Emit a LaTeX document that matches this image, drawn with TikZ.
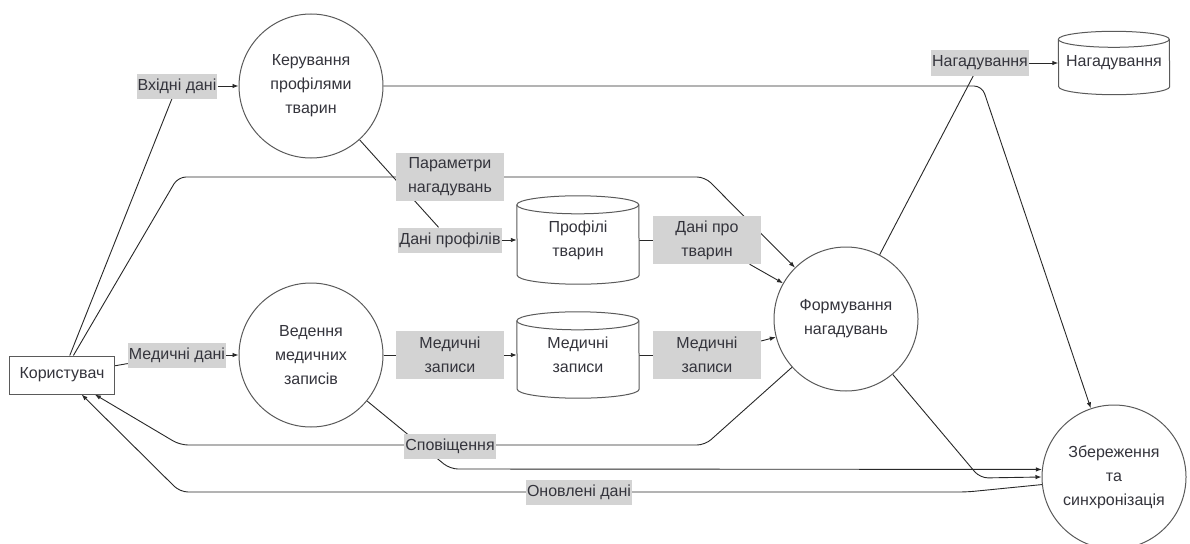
\documentclass[tikz,border=0pt]{standalone}
\usepackage{fontspec}
\setmainfont{Liberation Sans}
\usetikzlibrary{calc,backgrounds,arrows.meta}

\definecolor{ink}{RGB}{40,40,40}
\definecolor{txt}{RGB}{52,52,60}
\definecolor{edge}{RGB}{90,90,90}
\definecolor{lblfill}{RGB}{211,211,211}

% data store drawn as a cylinder around a named rectangular node
% #1 node name, #2 x radius of the end ellipses, #3 y radius
\newcommand\drawcyl[3]{%
  \path[cylline] ($(#1.north west)+(0,-#3)$)
      arc[start angle=180,end angle=0,x radius=#2,y radius=#3]
      -- ($(#1.south east)+(0,#3)$)
      arc[start angle=0,end angle=-180,x radius=#2,y radius=#3] -- cycle;
  \path[cylline,fill=none] ($(#1.north west)+(0,-#3)$)
      arc[start angle=180,end angle=360,x radius=#2,y radius=#3];
}

\begin{document}
\begin{tikzpicture}[x=1pt,y=1pt,
  every node/.style={font=\fontsize{16}{24}\selectfont, text=txt},
  proc/.style={circle, draw=edge, line width=1pt, fill=white,
               minimum size=144pt, inner sep=0pt, align=center},
  ent/.style={rectangle, draw=edge, line width=1pt, fill=white,
              minimum width=105pt, minimum height=38pt, inner sep=0pt},
  store/.style={rectangle, inner sep=0pt, align=center},
  flow/.style={rectangle, fill=lblfill, inner xsep=1pt, inner ysep=0pt,
               minimum height=25pt},
  flowtwo/.style={rectangle, fill=lblfill, align=center, inner sep=0pt,
                  minimum width=108pt, minimum height=48pt},
  link/.style={draw=ink, line width=0.9pt, rounded corners=8pt},
  arr/.style={link, -{Latex[length=6pt,width=4.5pt]}},
  cylline/.style={draw=edge, line width=1pt, fill=white}
]
\useasboundingbox (0,0) rectangle (1190,-543);

% external entity and processes
\node[ent]  (user) at (62,-375)   {Користувач};
\node[proc] (ker)  at (311,-86)   {Керування\\профілями\\тварин};
\node[proc] (ved)  at (311,-355)  {Ведення\\медичних\\записів};
\node[proc] (form) at (846,-319)  {Формування\\нагадувань};
\node[proc] (zb)   at (1114,-477) {Збереження\\та\\синхронізація};

% data stores
\node[store, minimum width=122pt, minimum height=88pt] (dbprof) at (578,-240) {Профілі\\тварин};
\node[store, minimum width=122pt, minimum height=86pt] (dbmed)  at (578,-355) {Медичні\\записи};
\node[store, minimum width=111pt, minimum height=63pt] (dbrem)  at (1114,-63) {Нагадування};

% flow labels
\node[flow]    (lin)   at (177,-86)  {Вхідні дані};
\node[flow]    (lmed)  at (177,-355) {Медичні дані};
\node[flowtwo] (lpar)  at (450,-177) {Параметри\\нагадувань};
\node[flow]    (lprof) at (450,-240) {Дані профілів};
\node[flowtwo] (lanim) at (707,-240) {Дані про\\тварин};
\node[flowtwo] (lreca) at (450,-355) {Медичні\\записи};
\node[flowtwo] (lrecb) at (707,-355) {Медичні\\записи};
\node[flow]    (lnot)  at (450,-446) {Сповіщення};
\node[flow]    (lupd)  at (579,-492) {Оновлені дані};
\node[flow]    (lrem)  at (980,-63)  {Нагадування};

% bend points of the routed flows
\coordinate (pa) at (178,-177);
\coordinate (pb) at (705,-177);
\coordinate (ka) at (982,-86);
\coordinate (na) at (705,-445);
\coordinate (nb) at (180,-445);
\coordinate (va) at (450,-469);
\coordinate (fa) at (980,-478);
\coordinate (ua) at (967,-492);
\coordinate (ub) at (180,-492);

\begin{pgfonlayer}{background}
  \fill[white] (0,0) rectangle (1190,-543);
  % input data
  \path[link] (user) -- (lin);
  \path[arr]  (lin) -- (ker);
  \path[link] (user) -- (lmed);
  \path[arr]  (lmed) -- (ved);
  % reminder parameters
  \path[arr]  (user) -- (pa) -- (pb) -- (form);
  % profiles
  \path[link] (ker) -- (lprof);
  \path[arr]  (lprof) -- (dbprof);
  \path[link] (dbprof) -- (lanim);
  \path[arr]  (lanim) -- (form);
  \path[arr]  (ker) -- (ka) -- (zb);
  % medical records
  \path[link] (ved) -- (lreca);
  \path[arr]  (lreca) -- (dbmed);
  \path[link] (dbmed) -- (lrecb);
  \path[arr]  (lrecb) -- (form);
  % reminders
  \path[link] (form) -- (lrem);
  \path[arr]  (lrem) -- (dbrem);
  % notifications back to the user
  \path[arr]  (form) -- (na) -- (nb) -- (user);
  % storage and synchronisation
  \path[arr]  (ved) -- (va) -- (zb.174);
  \path[arr]  (form) -- (fa) -- (zb.west);
  \path[arr]  (zb.186) -- (ua) -- (ub) -- (user);
  % cylinder outlines
  \drawcyl{dbprof}{61}{9}
  \drawcyl{dbmed}{61}{9}
  \drawcyl{dbrem}{55.5}{8}
\end{pgfonlayer}
\end{tikzpicture}
\end{document}
